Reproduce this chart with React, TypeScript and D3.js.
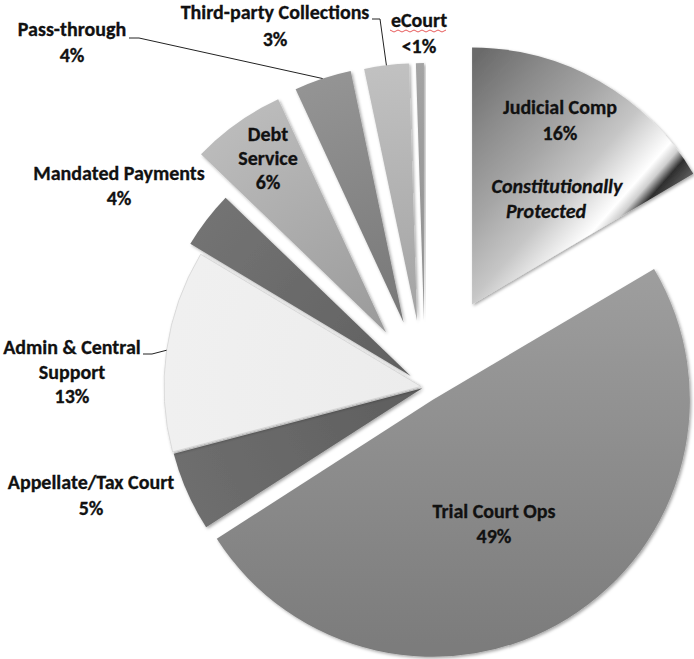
import React from "react";
import * as d3 from "d3";

// ---- data ----
const categories = [
  "Judicial Comp",
  "Trial Court Ops",
  "Appellate/Tax Court",
  "Admin & Central Support",
  "Mandated Payments",
  "Debt Service",
  "Pass-through",
  "Third-party Collections",
  "eCourt",
];
const shares = [16.5, 49.4, 5.0, 12.7, 3.6, 5.9, 3.6, 2.8, 0.5];
const pctLabels = ["16%", "49%", "5%", "13%", "4%", "6%", "4%", "3%", "<1%"];
const labelLines = [
  ["Judicial Comp"],
  ["Trial Court Ops"],
  ["Appellate/Tax Court"],
  ["Admin & Central", "Support"],
  ["Mandated Payments"],
  ["Debt", "Service"],
  ["Pass-through"],
  ["Third-party Collections"],
  ["eCourt"],
];
const noteLines = ["Constitutionally", "Protected"];

// ---- layout / style ----
const W = 694;
const H = 659;
const CX = 425;
const CY = 387;
const R = 257;
const explode = [95, 15, 3, 4, 18, 67, 68, 67, 67];
const outerFill = ["", "#9a9a9a", "#6e6e6e", "#f0f0f0", "#737373", "#bbbbbb", "#949494", "#c1c1c1", "#a4a4a4"];
const innerFill = ["", "#7b7b7b", "#5e5e5e", "#ececec", "#606060", "#9a9a9a", "#777777", "#a3a3a3", "#8e8e8e"];
// label anchor: center x, first baseline y, line spacing
const labelPos: [number, number, number][] = [
  [560, 114, 26],
  [494, 518, 25],
  [91, 489, 26],
  [72, 354, 24.5],
  [119, 180, 25],
  [268, 141, 24],
  [72, 36, 26],
  [275, 19, 27],
  [419, 27, 26],
];
// leader line start points (label side) for the slices that have leaders
const leaderStart: Record<number, [number, number][]> = {
  6: [[129, 38], [139, 38]],
  7: [[372, 19], [380, 19]],
  3: [[143, 354], [152, 354]],
};

const FONT = "Carlito, Calibri, Lato, 'Liberation Sans', sans-serif";
const FS = 20;

export default function App() {
  const pie = d3
    .pie<number>()
    .sort(null)
    .value((d) => d)
    .startAngle(0)
    .endAngle(2 * Math.PI);
  const arcs = pie(shares);
  const arcGen = d3.arc<d3.PieArcDatum<number>>().innerRadius(0).outerRadius(R);

  const apexes = arcs.map((a, i) => {
    const mid = (a.startAngle + a.endAngle) / 2;
    return [CX + explode[i] * Math.sin(mid), CY - explode[i] * Math.cos(mid)] as [number, number];
  });

  const line = d3.line();

  return (
    <svg
      width={W}
      height={H}
      style={{ position: "absolute", left: 0, top: 0, background: "#fff" }}
      fontFamily={FONT}
    >
      <defs>
        <filter id="shadow" x="-20%" y="-20%" width="140%" height="140%">
          <feDropShadow dx="1.5" dy="1.5" stdDeviation="1.6" floodColor="#000" floodOpacity="0.35" />
        </filter>
        {/* gradients are in each slice's local coordinates (origin = slice apex) */}
        <linearGradient id="g0" gradientUnits="userSpaceOnUse" x1={0} y1={-244} x2={228} y2={-44}>
          <stop offset="0" stopColor="#6a6a6a" />
          <stop offset="0.18" stopColor="#8a8a8a" />
          <stop offset="0.36" stopColor="#a6a6a6" />
          <stop offset="0.52" stopColor="#c6c6c6" />
          <stop offset="0.62" stopColor="#ececec" />
          <stop offset="0.67" stopColor="#ffffff" />
          <stop offset="0.705" stopColor="#cfcfcf" />
          <stop offset="0.74" stopColor="#2e2e2e" />
          <stop offset="0.79" stopColor="#5a5a5a" />
          <stop offset="0.86" stopColor="#9a9a9a" />
          <stop offset="1" stopColor="#bdbdbd" />
        </linearGradient>
        <linearGradient id="g1" gradientUnits="userSpaceOnUse" x1={0} y1={-130} x2={0} y2={R}>
          <stop offset="0" stopColor="#9e9e9e" />
          <stop offset="1" stopColor="#7b7b7b" />
        </linearGradient>
        {arcs.map((a, i) =>
          i < 2 ? null : (
            <radialGradient key={i} id={`g${i}`} gradientUnits="userSpaceOnUse" cx={0} cy={0} r={R}>
              <stop offset="0" stopColor={innerFill[i]} />
              <stop offset="1" stopColor={outerFill[i]} />
            </radialGradient>
          )
        )}
      </defs>

      {arcs.map((a, i) => (
        <path
          key={categories[i]}
          d={arcGen(a) || ""}
          transform={`translate(${apexes[i][0]},${apexes[i][1]})`}
          fill={`url(#g${i})`}
          stroke={i === 3 ? "#d4d4d4" : "none"}
          strokeWidth={i === 3 ? 0.8 : 0}
          filter="url(#shadow)"
        />
      ))}

      {/* leader lines */}
      {Object.keys(leaderStart).map((k) => {
        const i = Number(k);
        const a = arcs[i];
        const mid = (a.startAngle + a.endAngle) / 2;
        const end: [number, number] = [
          apexes[i][0] + R * Math.sin(mid),
          apexes[i][1] - R * Math.cos(mid),
        ];
        const pts = [...leaderStart[i], end];
        return <path key={`l${i}`} d={line(pts) || ""} fill="none" stroke="#222" strokeWidth={1} />;
      })}

      {/* labels */}
      {categories.map((c, i) => {
        const [x, y, dy] = labelPos[i];
        const lines = [...labelLines[i], pctLabels[i]];
        return (
          <text
            key={`t${i}`}
            x={x}
            y={y}
            textAnchor="middle"
            fontSize={FS}
            fontWeight="bold"
            fill="#111"
            stroke="#111"
            strokeWidth={0.3}
          >
            {lines.map((t, j) => (
              <tspan key={j} x={x} y={y + j * dy}>
                {t}
              </tspan>
            ))}
          </text>
        );
      })}

      {/* note inside Judicial Comp */}
      <text x={557} y={193} textAnchor="middle" fontSize={FS} fontWeight="bold" fontStyle="italic" fill="#111" stroke="#111" strokeWidth={0.3}>
        {noteLines[0]}
      </text>
      <text x={546} y={218} textAnchor="middle" fontSize={FS} fontWeight="bold" fontStyle="italic" fill="#111" stroke="#111" strokeWidth={0.3}>
        {noteLines[1]}
      </text>

      {/* spell-check squiggle under eCourt */}
      <path
        d={d3.range(0, 15).map((k) => `${k === 0 ? "M" : "L"}${390 + k * 4},${k % 2 === 0 ? 30 : 32}`).join(" ")}
        fill="none"
        stroke="#e03030"
        strokeWidth={0.8}
      />
    </svg>
  );
}
